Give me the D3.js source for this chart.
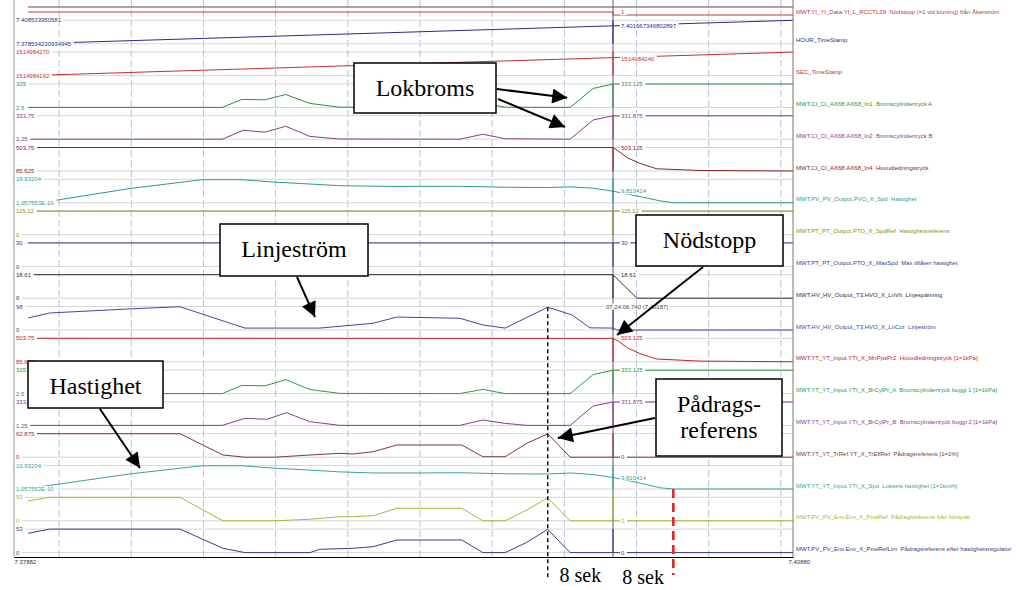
<!DOCTYPE html>
<html>
<head>
<meta charset="utf-8">
<script src="https://cdn.jsdelivr.net/npm/d3@7"></script>
<style>
body { margin: 0; background: #fff; }
svg text { font-family: "Liberation Sans", Arial, sans-serif; }
.note { font-family: "Liberation Serif", "Times New Roman", serif; font-size: 24px; fill: #000; }
</style>
</head>
<body>
<script>
// time is seconds after 07:22:00
var timeStart = 43.75, timeEnd = 151.68;
var cursorTime = 126.74;
var axisLabels = ["7.37882", "7.40880"];
var cursorStamp = "07:24:06.740 (7.40187)";

var channelNames = [
  "",
  "MWT.YI_YI_Data.YI_L_RCCTL39  Nödstopp (=1 vid körning) från Åkerström",
  "HOUR_TimeStamp",
  "SEC_TimeStamp",
  "MWT.CI_CI_AX68.AX68_In1  Bromscylindertryck A",
  "MWT.CI_CI_AX68.AX68_In2  Bromscylindertryck B",
  "MWT.CI_CI_AX68.AX68_In4  Huvudledningstryck",
  "MWT.PV_PV_Output.PVO_X_Spd  Hastighet",
  "MWT.PT_PT_Output.PTO_X_SpdRef  Hastighetsreferens",
  "MWT.PT_PT_Output.PTO_X_MaxSpd  Max tillåten hastighet",
  "MWT.HV_HV_Output_T3.HVO_X_LnVlt  Linjespänning",
  "MWT.HV_HV_Output_T3.HVO_X_LnCur  Linjeström",
  "MWT.YT_YT_Input.YTI_X_MnPpsPr2  Huvudledningstryck [1=1kPa]",
  "MWT.YT_YT_Input.YTI_X_BrCylPr_A  Bromscylindertryck boggi 1 [1=1kPa]",
  "MWT.YT_YT_Input.YTI_X_BrCylPr_B  Bromscylindertryck boggi 2 [1=1kPa]",
  "MWT.YT_YT_TrRef.YT_X_TrEffRef  Pådragsreferens [1=1%]",
  "MWT.YT_YT_Input.YTI_X_Spd  Loksets hastighet [1=1km/h]",
  "MWT.PV_PV_Env.Env_X_PowRef  Pådragsreferens från körspak",
  "MWT.PV_PV_Env.Env_X_PowRefLim  Pådragsreferens efter hastighetsregulator"
];

var rangeMin = ["0", "0", "7.378534230934945", "1514984162", "2.5", "1.25", "85.625", "1.057553E-10",
  "0", "0", "0", "0", "85.625", "2.5", "1.25", "0", "1.057553E-10", "0", "0"];
var rangeMax = ["1", "1", "7.408533950581", "1514984270", "335", "333.75", "503.75", "19.93204",
  "115.12", "30", "18.61", "98", "503.75", "335", "333.75", "62.875", "19.93204", "53", "53"];
var cursorValues = [null, "1", "7.401667346802897", "1514984240", "333.125", "331.875", "503.125", "9.810414",
  "115.12", "30", "18.61", null, "503.125", "333.125", "331.875", "0", "9.810414", "0", "0"];

var topTrack = [[45.7, 0], [151.68, 0]];
var nodstopp = [[45.7, 1], [126.74, 1], [126.75, 0], [151.68, 0]];
var hourStamp = [[45.7, 7.37853], [151.68, 7.40853]];
var secStamp = [[45.7, 1514984162], [151.68, 1514984270]];
var brCylA = [[45.7, 2.5], [72.6, 2.5], [75.3, 115], [78.5, 110], [81.4, 185], [84.75, 59], [88.9, 5], [105.5, 2.5],
  [108.7, 65], [111.8, 5], [120.8, 2.5], [124, 270], [126.74, 333.125], [151.68, 333.125]];
var brCylB = [[45.7, 1.25], [72.6, 1.25], [75.5, 127], [78.5, 101], [81.4, 184], [84.75, 41], [88.9, 4], [105.5, 1.25],
  [108.7, 71], [111.8, 8], [120.8, 1.25], [124, 274], [126.74, 331.875], [151.68, 331.875]];
var mainPipe = [[45.7, 503.75], [126.74, 503.125], [127.5, 440], [128.8, 316], [130.5, 220], [132.8, 125],
  [138.8, 95], [151.68, 86]];
var speed = [[45.7, 0], [49.4, 2], [59.7, 12], [69.8, 19.6], [75.2, 19.6], [79.5, 17.7], [84.5, 16], [88.9, 14.5],
  [96, 13.9], [105.5, 14], [111.8, 13.2], [117.7, 12.9], [120.8, 13.5], [124, 12.4], [126.74, 9.810414],
  [130.5, 5.2], [133.3, 1.6], [135.1, 0], [151.68, 0]];
var speedRef = [[45.7, 115.12], [151.68, 115.12]];
var maxSpeed = [[45.7, 30], [151.68, 30]];
var lineVolt = [[45.7, 18.61], [126.74, 18.61], [130.05, 0], [151.68, 0]];
var lineCur = [[45.7, 50], [48.7, 71], [59.8, 88], [66.75, 97], [75.75, 8], [86.1, 8], [93.5, 28], [96.8, 54],
  [105.5, 49], [108.7, 21], [111.8, 8], [117.7, 95], [121.05, 63], [123.55, 9], [126.74, 8], [127.3, 0], [151.68, 0]];
var mainPipe2 = [[45.7, 503.75], [126.74, 503.125], [127.5, 450], [128.8, 330], [130.5, 230], [132.8, 135],
  [138.8, 98], [151.68, 86]];
var brBoggi1 = [[45.7, 2.5], [72.6, 2.5], [75.3, 118], [78.5, 112], [81.4, 200], [84.75, 60], [88.9, 5], [105.5, 2.5],
  [108.7, 62], [111.8, 2.5], [120.8, 2.5], [124, 272], [126.74, 333.125], [151.68, 333.125]];
var brBoggi2 = [[45.7, 1.25], [72.6, 1.25], [75.75, 101], [78.8, 88], [81.5, 181], [84.75, 54], [88.9, 1.25],
  [105.5, 1.25], [108.7, 77], [111.8, 30], [114.8, 1.25], [120.8, 1.25], [124, 277], [126.74, 331.875], [151.68, 331.875]];
var tracRef = [[45.7, 62.875], [66.75, 62.875], [72.7, 5.9], [75.75, 0], [79.9, 0], [84.75, 5.9], [88.9, 10.4],
  [90.7, 8.6], [93.5, 14.7], [96.8, 32.6], [105.8, 32.6], [108.7, 1.3], [111.8, 1.3], [114.8, 37.2], [117.7, 62.5],
  [120.8, 0], [151.68, 0]];
var locoSpeed = [[45.7, 0.5], [49.1, 3.4], [59.7, 12.7], [69.8, 19.7], [75.2, 19.7], [79.5, 17.8], [84.5, 16.1],
  [88.9, 14.5], [93.5, 13.6], [100, 13.6], [105.5, 13.8], [111.8, 12.9], [117.7, 12.7], [121, 13.6], [124, 12.2],
  [126.74, 9.810414], [130.5, 5.0], [133.3, 1.0], [135.1, 0], [151.68, 0]];
var powRef = [[45.7, 44.7], [48.7, 53], [66.75, 53], [72.7, 0], [79.9, 0], [84.75, 3.4], [88.9, 9.2], [90.7, 9.2],
  [93.5, 11.5], [96.8, 28.2], [105.8, 28.2], [108.7, 0], [111.8, 0], [114.8, 24.4], [117.7, 52], [120.8, 0], [151.68, 0]];
var powRefLim = [[45.7, 43.5], [48.7, 53], [66.75, 53], [72.7, 9.7], [75.75, 0], [84.75, 0], [86.1, 7.4], [90.7, 9.7],
  [93.5, 13.3], [96.8, 28.4], [105.8, 28.4], [108.7, 0], [111.8, 0], [114.8, 23.2], [117.7, 52.5], [120.8, 0], [151.68, 0]];

var seriesList = [topTrack, nodstopp, hourStamp, secStamp, brCylA, brCylB, mainPipe, speed, speedRef, maxSpeed,
  lineVolt, lineCur, mainPipe2, brBoggi1, brBoggi2, tracRef, locoSpeed, powRef, powRefLim];

var colors = ["#6a3a58", "#b83a3a", "#2c2c8c", "#c23030", "#2f8f3c", "#8a3a8a", "#8e2222", "#2a9a9a", "#8e8e22",
  "#3c3c92", "#303030", "#4444a4", "#c42424", "#2f9a3c", "#8c3a9a", "#8e3232", "#38a2a2", "#b2b236", "#3a3a8c"];

// annotation boxes, arrow tips sit on a channel at a time / value
var notes = [
  { lines: ["Lokbroms"], box: [354, 63, 142, 50], arrows: [
      { from: [497, 89], ch: 4, t: 120.4, v: 138 },
      { from: [498, 99], ch: 5, t: 120.1, v: 174 }] },
  { lines: ["Linjeström"], box: [220, 224, 148, 52], arrows: [{ from: [297, 277], ch: 11, t: 85.45, v: 54 }] },
  { lines: ["Nödstopp"], box: [636, 215, 147, 51], arrows: [{ from: [703, 267], ch: 12, t: 127.3, v: 562 }] },
  { lines: ["Hastighet"], box: [28, 361, 135, 47], arrows: [{ from: [100, 409], ch: 16, t: 61.2, v: 17.8 }] },
  { lines: ["Pådrags-", "referens"], box: [656, 379, 126, 77], arrows: [{ from: [655, 418], ch: 15, t: 119.1, v: 51.4 }] }
];
var peakTime = 117.7, stopTime = 135.1;
var gapLabel = "8 sek";

var W = 1016, H = 590;
var plotLeft = 14, plotRight = 793, axisY = 557;

function band(i) {
  if (i === 0) return { top: 4, bottom: 7 };
  if (i === 1) return { top: 12, bottom: 15 };
  var top = 20.3 + (i - 2) * 31.8;
  return { top: top, bottom: top + 23.5 };
}

var x = d3.scaleLinear().domain([timeStart, timeEnd]).range([plotLeft, plotRight]);

var channels = seriesList.map(function(data, i) {
  var b = band(i);
  return {
    name: channelNames[i], data: data, color: colors[i], band: b,
    minLabel: rangeMin[i], maxLabel: rangeMax[i], cursor: cursorValues[i],
    y: d3.scaleLinear().domain([+rangeMin[i], +rangeMax[i]]).range([b.bottom, b.top])
  };
});

var svg = d3.select("body").append("svg").attr("width", W).attr("height", H);
svg.append("rect").attr("width", W).attr("height", H).attr("fill", "#fff");

svg.append("defs").append("clipPath").attr("id", "plot")
  .append("rect").attr("x", plotLeft).attr("y", 0).attr("width", plotRight - plotLeft).attr("height", axisY);

var marker = svg.select("defs").append("marker")
  .attr("id", "arrow").attr("viewBox", "0 0 10 10").attr("refX", 10).attr("refY", 5)
  .attr("markerWidth", 19).attr("markerHeight", 15).attr("markerUnits", "userSpaceOnUse")
  .attr("orient", "auto");
marker.append("path").attr("d", "M0,0L10,5L0,10z").attr("fill", "#000");

// horizontal band lines
var grid = svg.append("g");
channels.forEach(function(c, i) {
  if (i < 2) return;
  [c.band.top, c.band.bottom].forEach(function(yy) {
    grid.append("line").attr("x1", plotLeft).attr("x2", plotRight).attr("y1", yy).attr("y2", yy)
      .attr("stroke", "#d6d6d6").attr("stroke-width", 1);
  });
});

// vertical dashed time grid
grid.selectAll(".vg").data(x.ticks(10)).enter().append("line")
  .attr("x1", function(d) { return x(d); }).attr("x2", function(d) { return x(d); })
  .attr("y1", 0).attr("y2", axisY)
  .attr("stroke", "#b4c2d8").attr("stroke-dasharray", "7,3");

// series
var lines = svg.append("g").attr("clip-path", "url(#plot)");
channels.forEach(function(c) {
  var line = d3.line().x(function(d) { return x(d[0]); }).y(function(d) { return c.y(d[1]); });
  lines.append("path").attr("d", line(c.data)).attr("fill", "none")
    .attr("stroke", c.color).attr("stroke-width", 1);
});

// cursor
var cx = x(cursorTime);
svg.append("line").attr("x1", cx).attr("x2", cx).attr("y1", 0).attr("y2", axisY)
  .attr("stroke", "#5a5a6a").attr("stroke-width", 1);
channels.forEach(function(c, i) {
  if (i < 2) return;
  svg.append("line").attr("x1", cx).attr("x2", cx).attr("y1", c.band.top).attr("y2", c.band.bottom)
    .attr("stroke", c.color).attr("stroke-width", 1.2);
});

function labelWithBg(g, tx, ty, txt, color, anchor) {
  var bg = g.append("rect").attr("fill", "#fff");
  var t = g.append("text").attr("x", tx).attr("y", ty).attr("dy", "0.35em")
    .attr("font-size", 6).attr("fill", color).attr("text-anchor", anchor || "start").text(txt);
  var bb = t.node().getBBox();
  bg.attr("x", bb.x - 1).attr("y", bb.y).attr("width", bb.width + 3).attr("height", bb.height);
}

// range labels on the left
var labels = svg.append("g");
channels.forEach(function(c, i) {
  if (i < 2) return;
  labelWithBg(labels, plotLeft + 2, c.band.top, c.maxLabel, c.color);
  labelWithBg(labels, plotLeft + 2, c.band.bottom, c.minLabel, c.color);
});

// values at cursor
channels.forEach(function(c) {
  if (c.cursor === null) return;
  labelWithBg(labels, cx + 8, c.y(+c.cursor), c.cursor, c.color);
});
labelWithBg(labels, cx - 7, band(11).top, cursorStamp, "#444");

// right panel
svg.append("rect").attr("x", plotRight).attr("y", 0).attr("width", W - plotRight).attr("height", H).attr("fill", "#fff");
svg.append("line").attr("x1", plotLeft).attr("x2", plotLeft).attr("y1", 0).attr("y2", axisY).attr("stroke", "#999");
svg.append("line").attr("x1", plotRight).attr("x2", plotRight).attr("y1", 0).attr("y2", axisY).attr("stroke", "#777");
svg.append("g").selectAll("text").data(channels).enter().append("text")
  .attr("x", plotRight + 3).attr("y", function(d) { return d.band.bottom - 3.5; }).attr("dy", "0.35em")
  .attr("font-size", 6).attr("fill", function(d) { return d.color; })
  .attr("xml:space", "preserve").style("white-space", "pre")
  .text(function(d) { return d.name; });

// time axis
var axis = d3.axisBottom(x).tickValues([timeStart, timeEnd])
  .tickFormat(function(d, i) { return axisLabels[i]; })
  .tickSize(0).tickSizeOuter(0).tickPadding(3);
var gAxis = svg.append("g").attr("transform", "translate(0," + axisY + ")").call(axis);
gAxis.select(".domain").attr("stroke", "#000");
gAxis.selectAll("text").attr("font-size", 6).attr("fill", "#333")
  .attr("font-family", "Liberation Sans, Arial, sans-serif")
  .attr("text-anchor", "start").attr("dx", function(d, i) { return i ? -5 : 0; });

// annotations
var ann = svg.append("g");
ann.append("line").attr("x1", x(peakTime)).attr("x2", x(peakTime))
  .attr("y1", channels[11].y(95)).attr("y2", 580)
  .attr("stroke", "#000").attr("stroke-width", 1.4).attr("stroke-dasharray", "4,3");
ann.append("line").attr("x1", x(stopTime)).attr("x2", x(stopTime))
  .attr("y1", channels[16].y(0)).attr("y2", 575)
  .attr("stroke", "#e52222").attr("stroke-width", 2.6).attr("stroke-dasharray", "9,5");
ann.append("text").attr("class", "note").style("font-size", "20px")
  .attr("x", (x(peakTime) + cx) / 2).attr("y", 582).attr("text-anchor", "middle").text(gapLabel);
ann.append("text").attr("class", "note").style("font-size", "20px")
  .attr("x", (x(stopTime) + cx) / 2).attr("y", 584).attr("text-anchor", "middle").text(gapLabel);

notes.forEach(function(n) {
  var b = n.box;
  ann.append("rect").attr("x", b[0]).attr("y", b[1]).attr("width", b[2]).attr("height", b[3])
    .attr("fill", "#fff").attr("stroke", "#000").attr("stroke-width", 1.5);
  n.lines.forEach(function(l, k) {
    ann.append("text").attr("class", "note").attr("x", b[0] + b[2] / 2).attr("y", b[1] + 32.5 + k * 26.7)
      .attr("text-anchor", "middle").text(l);
  });
  n.arrows.forEach(function(a) {
    ann.append("line").attr("x1", a.from[0]).attr("y1", a.from[1])
      .attr("x2", x(a.t)).attr("y2", channels[a.ch].y(a.v))
      .attr("stroke", "#000").attr("stroke-width", 2).attr("marker-end", "url(#arrow)");
  });
});
</script>
</body>
</html>
